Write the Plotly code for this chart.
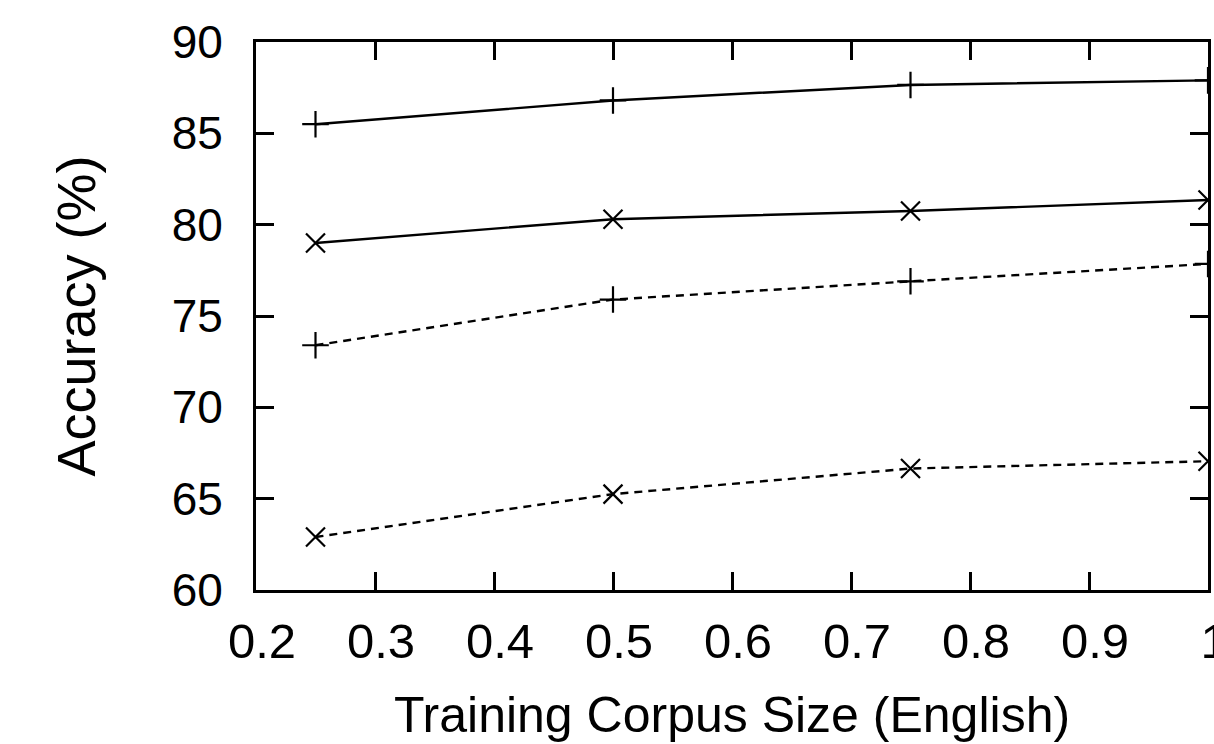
import plotly.graph_objects as go

x_sizes = [0.25, 0.5, 0.75, 1.0]
solid_plus = [85.5, 86.8, 87.65, 87.9]
solid_cross = [79.0, 80.3, 80.75, 81.35]
dashed_plus = [73.4, 75.9, 76.9, 77.85]
dashed_cross = [62.9, 65.25, 66.65, 67.05]

x_ticks = [0.2, 0.3, 0.4, 0.5, 0.6, 0.7, 0.8, 0.9, 1.0]
x_ticklabels = ["0.2", "0.3", "0.4", "0.5", "0.6", "0.7", "0.8", "0.9", "1"]
y_ticks = [60, 65, 70, 75, 80, 85, 90]
x_range = [0.2, 1.0]
y_range = [60, 90]

series = [
    (solid_plus, "solid", "cross-thin-open"),
    (solid_cross, "solid", "x-thin-open"),
    (dashed_plus, "8px,6px", "cross-thin-open"),
    (dashed_cross, "8px,6px", "x-thin-open"),
]

fig = go.Figure()
for vals, dash, sym in series:
    fig.add_trace(go.Scatter(
        x=x_sizes, y=vals, mode="lines+markers",
        line=dict(color="black", width=2.4, dash=dash),
        marker=dict(symbol=sym, size=19, color="black", line=dict(color="black", width=2.2)),
        showlegend=False, cliponaxis=True,
    ))
# empty trace so the overlay (tick-mark) axes are drawn
fig.add_trace(go.Scatter(x=[], y=[], xaxis="x2", yaxis="y2", showlegend=False, hoverinfo="skip"))

FAM = "Liberation Sans, Arial, Helvetica, sans-serif"

fig.update_layout(
    width=1214, height=744,
    margin=dict(l=256, r=3, t=42, b=154),
    paper_bgcolor="white", plot_bgcolor="white",
    font=dict(family=FAM, color="black"),
    xaxis=dict(
        range=x_range, tickvals=x_ticks, ticktext=x_ticklabels, ticks="",
        showline=True, linewidth=3, linecolor="black", mirror=True,
        showgrid=False, zeroline=False,
        tickfont=dict(size=49, family=FAM, color="black"), ticklabelstandoff=6,
        ticklabelshift=6, ticklabeloverflow="allow",
        title=dict(text="Training Corpus Size (English)",
                   font=dict(size=50, family=FAM, color="black"), standoff=31),
        automargin=False,
    ),
    yaxis=dict(
        range=y_range, tickvals=y_ticks, ticks="",
        showline=True, linewidth=3, linecolor="black", mirror=True,
        showgrid=False, zeroline=False,
        tickfont=dict(size=46, family=FAM, color="black"), ticklabelstandoff=21,
        ticklabeloverflow="allow",
        title=dict(text="Accuracy (%)",
                   font=dict(size=54, family=FAM, color="black"), standoff=59),
        automargin=False,
    ),
    xaxis2=dict(
        overlaying="x", anchor="y2", side="bottom", range=x_range, tickvals=x_ticks,
        ticks="inside", ticklen=18, tickwidth=2.5, tickcolor="black",
        showticklabels=False, showline=True, linewidth=3, linecolor="black",
        mirror="ticks", showgrid=False, zeroline=False,
    ),
    yaxis2=dict(
        overlaying="y", anchor="x2", side="left", range=y_range, tickvals=y_ticks,
        ticks="inside", ticklen=18, tickwidth=2.5, tickcolor="black",
        showticklabels=False, showline=True, linewidth=3, linecolor="black",
        mirror="ticks", showgrid=False, zeroline=False,
    ),
)

fig.write_html(
    "out.html",
    config={"displayModeBar": False},
    post_script="document.body.style.margin='0';document.body.style.overflow='hidden';",
)
